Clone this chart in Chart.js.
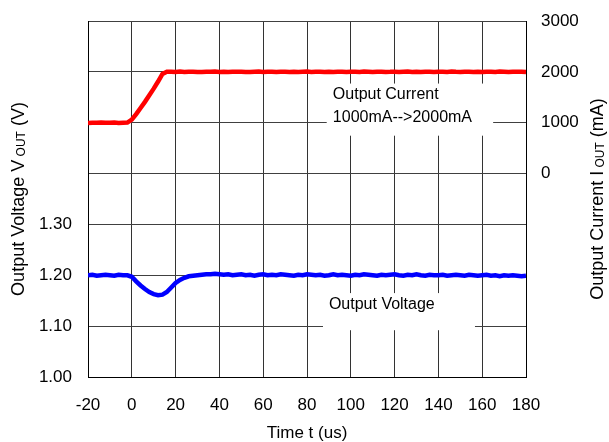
<!DOCTYPE html>
<html lang="en">
<head>
<meta charset="UTF-8">
<title>Load transient</title>
<script src="https://cdn.jsdelivr.net/npm/chart.js@4.4.1/dist/chart.umd.min.js"></script>
<style>
  html, body { margin: 0; padding: 0; background: #fff; }
  #wrap { width: 609px; height: 442px; }
</style>
</head>
<body>
<div id="wrap"><canvas id="myChart" width="609" height="442"></canvas></div>
<script>
// time in us, sampled every 2 us
const timeUs = [
  -20, -18, -16, -14, -12, -10, -8, -6, -4, -2,
  0, 2, 4, 6, 8, 10, 12, 14, 16, 18,
  20, 22, 24, 26, 28, 30, 32, 34, 36, 38,
  40, 42, 44, 46, 48, 50, 52, 54, 56, 58,
  60, 62, 64, 66, 68, 70, 72, 74, 76, 78,
  80, 82, 84, 86, 88, 90, 92, 94, 96, 98,
  100, 102, 104, 106, 108, 110, 112, 114, 116, 118,
  120, 122, 124, 126, 128, 130, 132, 134, 136, 138,
  140, 142, 144, 146, 148, 150, 152, 154, 156, 158,
  160, 162, 164, 166, 168, 170, 172, 174, 176, 178,
  180
];

const currentMa = [
  995, 1000, 998, 1003, 997, 1001, 1004, 996, 1000, 1002,
  1060, 1170, 1290, 1410, 1540, 1670, 1810, 1960, 2003,
  2002, 1998, 2005, 1997, 2001, 2004, 1999, 1996, 2003, 2000,
  2006, 1998, 2001, 1995, 2003, 2000, 2004, 1999, 1997, 2002,
  2005, 1998, 2001, 2003, 1996, 2000, 2004, 1999, 2002, 1997,
  2001, 2006, 1998, 2000, 2003, 1995, 2002, 1999, 2004, 2001,
  1997, 2003, 2000, 1998, 2005, 2002, 1996, 2001, 2004, 1999,
  2000, 2003, 1997, 2002, 2006, 1998, 2001, 1999, 2004, 2000,
  1996, 2003, 2002, 1998, 2005, 2000, 1997, 2001, 2004, 1999,
  2002, 1996, 2003, 2000, 1998, 2005, 2001, 1997, 2003, 2000,
  2002, 1999
];

const voltageV = [
  1.200, 1.201, 1.199, 1.200, 1.201, 1.200, 1.199, 1.201, 1.200, 1.200,
  1.197, 1.188, 1.180, 1.173, 1.167, 1.163, 1.161, 1.162, 1.167, 1.176,
  1.185, 1.191, 1.195, 1.198, 1.199, 1.200, 1.201, 1.202, 1.202, 1.203,
  1.202,
  1.201, 1.202, 1.200, 1.201, 1.202, 1.200, 1.201, 1.199, 1.201, 1.202,
  1.200, 1.201, 1.200, 1.202, 1.201, 1.200, 1.199, 1.201, 1.200, 1.202,
  1.201, 1.200, 1.201, 1.199, 1.200, 1.202, 1.200, 1.201, 1.200, 1.199,
  1.201, 1.200, 1.202, 1.201, 1.200, 1.199, 1.201, 1.200, 1.201, 1.202,
  1.200, 1.199, 1.201, 1.200, 1.202, 1.200, 1.199, 1.201, 1.200, 1.200,
  1.201, 1.199, 1.200, 1.201, 1.200, 1.199, 1.201, 1.200, 1.199, 1.200,
  1.201, 1.199, 1.200, 1.198, 1.200, 1.199, 1.200, 1.199, 1.198, 1.199
];

// only these ticks get a label, the rest of the grid is unlabeled
const voltLabels = [1.0, 1.1, 1.2, 1.3];
const currentLabels = [0, 1000, 2000, 3000];

const FONT = "'Liberation Sans', Arial, sans-serif";

function pts(ys) {
  return timeUs.map((t, i) => ({ x: t, y: ys[i] }));
}

// text made of parts, some smaller (subscripts)
function drawParts(ctx, parts, cx, cy, rot) {
  ctx.save();
  ctx.translate(cx, cy);
  ctx.rotate(rot);
  ctx.fillStyle = '#000';
  ctx.textBaseline = 'alphabetic';
  ctx.textAlign = 'left';
  let total = 0;
  parts.forEach(p => {
    ctx.font = p.size + 'px ' + FONT;
    p.w = ctx.measureText(p.text).width;
    total += p.w;
  });
  let x = -total / 2;
  parts.forEach(p => {
    ctx.font = p.size + 'px ' + FONT;
    ctx.fillText(p.text, x, 6 + (p.dy || 0));
    x += p.w;
  });
  ctx.restore();
}

const notes = {
  id: 'notes',
  beforeDatasetsDraw(chart) {
    const { ctx, scales } = chart;
    const x = scales.x, yv = scales.y, yc = scales.y1;
    ctx.save();
    ctx.fillStyle = '#fff';
    // white boxes behind the labels
    let x0 = x.getPixelForValue(89), x1 = x.getPixelForValue(165);
    let y0 = yc.getPixelForValue(1770), y1 = yc.getPixelForValue(745);
    ctx.fillRect(x0, y0, x1 - x0, y1 - y0);
    x0 = x.getPixelForValue(87.3); x1 = x.getPixelForValue(156.7);
    y0 = yv.getPixelForValue(1.165); y1 = yv.getPixelForValue(1.092);
    ctx.fillRect(x0, y0, x1 - x0, y1 - y0);

    ctx.fillStyle = '#000';
    ctx.font = '16px ' + FONT;
    ctx.textBaseline = 'middle';
    ctx.textAlign = 'left';
    ctx.fillText('Output Current', x.getPixelForValue(91.8), yc.getPixelForValue(1550));
    ctx.fillText('1000mA-->2000mA', x.getPixelForValue(91.8), yc.getPixelForValue(1100));
    ctx.fillText('Output Voltage', x.getPixelForValue(90), yv.getPixelForValue(1.142));
    ctx.restore();
  },
  afterDraw(chart) {
    const { ctx, chartArea } = chart;
    const midY = (chartArea.top + chartArea.bottom) / 2;
    drawParts(ctx, [
      { text: 'Output Voltage V', size: 18 },
      { text: ' OUT', size: 12, dy: 1 },
      { text: ' (V)', size: 18 }
    ], 18, midY, -Math.PI / 2);
    drawParts(ctx, [
      { text: 'Output Current I', size: 18 },
      { text: ' OUT', size: 12, dy: 1 },
      { text: ' (mA)', size: 18 }
    ], 597, midY, -Math.PI / 2);
    drawParts(ctx, [{ text: 'Time t (us)', size: 17 }],
      (chartArea.left + chartArea.right) / 2, 432, 0);
  }
};

// fixed axis sizes so the plot box lands where the reference has it
function fitY(w) {
  return s => { s.width = w; s.paddingTop = 0; s.paddingBottom = 0; };
}

const ctx = document.getElementById('myChart').getContext('2d');
new Chart(ctx, {
  type: 'line',
  data: {
    datasets: [
      {
        label: 'Output Current',
        data: pts(currentMa),
        yAxisID: 'y1',
        borderColor: '#ff0000',
        borderWidth: 4.5,
        pointRadius: 0,
        tension: 0
      },
      {
        label: 'Output Voltage',
        data: pts(voltageV),
        yAxisID: 'y',
        borderColor: '#0000ff',
        borderWidth: 4.5,
        pointRadius: 0,
        tension: 0
      }
    ]
  },
  options: {
    responsive: false,
    animation: false,
    layout: { padding: { top: 21, left: 0, right: 0, bottom: 0 } },
    plugins: { legend: { display: false }, tooltip: { enabled: false } },
    scales: {
      x: {
        type: 'linear',
        min: -20,
        max: 180,
        afterFit: s => { s.height = 65; s.paddingLeft = 0; s.paddingRight = 0; },
        ticks: {
          stepSize: 20,
          padding: 18,
          color: '#000',
          font: { family: FONT, size: 17 }
        },
        grid: { color: '#333', lineWidth: 1, drawTicks: false },
        border: { color: '#000', width: 1 }
      },
      y: {
        position: 'left',
        min: 1.0,
        max: 1.7,
        afterFit: fitY(88),
        ticks: {
          stepSize: 0.1,
          padding: 16,
          color: '#000',
          font: { family: FONT, size: 17 },
          callback: v => voltLabels.some(t => Math.abs(t - v) < 1e-6) ? v.toFixed(2) : ''
        },
        grid: { color: '#404040', lineWidth: 1, drawTicks: false },
        border: { color: '#000', width: 1 }
      },
      y1: {
        position: 'right',
        min: -4000,
        max: 3000,
        afterFit: fitY(83),
        ticks: {
          stepSize: 1000,
          padding: 15,
          color: '#000',
          font: { family: FONT, size: 17 },
          callback: v => currentLabels.includes(v) ? String(v) : ''
        },
        grid: { display: false, drawTicks: false },
        border: { color: '#000', width: 1 }
      }
    }
  },
  plugins: [notes]
});
</script>
</body>
</html>
